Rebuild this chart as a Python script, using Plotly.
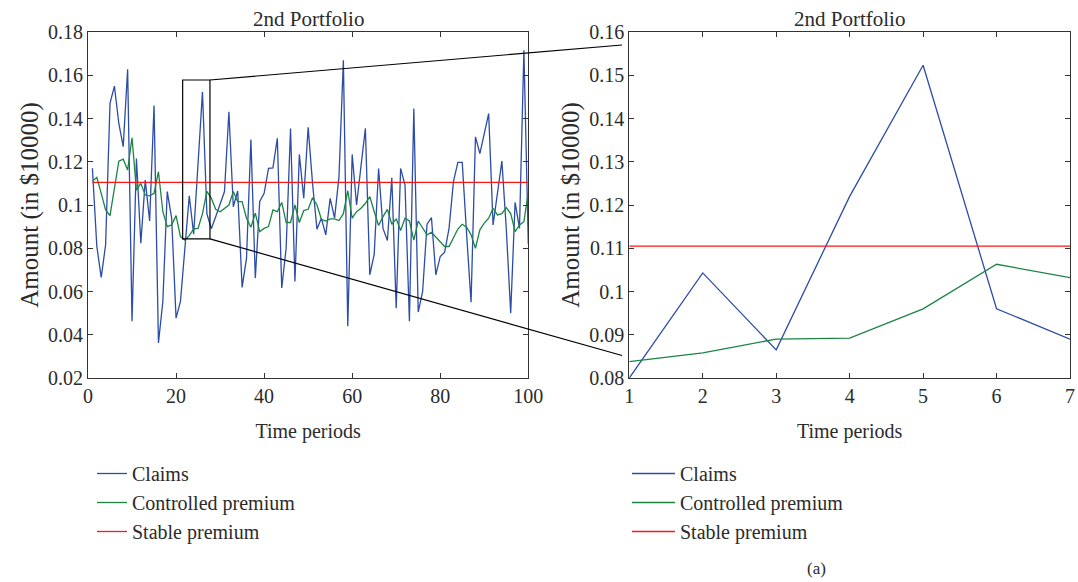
import plotly.graph_objects as go

# ---------------- data ----------------
periods = list(range(1, 101))
claims = [
    0.117, 0.081, 0.0665, 0.0816, 0.147, 0.155, 0.1377, 0.127, 0.1628, 0.0462,
    0.1215, 0.0823, 0.1115, 0.0926, 0.146, 0.0362, 0.0554, 0.1062, 0.0939, 0.0477,
    0.0554, 0.080, 0.1043, 0.0865, 0.122, 0.1523, 0.096, 0.089, 0.0946, 0.100,
    0.1062, 0.1431, 0.0992, 0.1065, 0.0619, 0.0754, 0.1303, 0.0662, 0.1016, 0.1054,
    0.1169, 0.1172, 0.1308, 0.0616, 0.080, 0.1354, 0.0646, 0.1234, 0.1031, 0.1359,
    0.110, 0.0888, 0.0939, 0.0862, 0.1031, 0.0939, 0.113, 0.1669, 0.0439, 0.1234,
    0.100, 0.118, 0.1354, 0.0677, 0.0772, 0.1169, 0.0892, 0.0836, 0.1126, 0.0523,
    0.1169, 0.1092, 0.0462, 0.1446, 0.0505, 0.060, 0.0911, 0.0942, 0.0677, 0.0762,
    0.0782, 0.0892, 0.1108, 0.1197, 0.1197, 0.0862, 0.0550, 0.1315, 0.1238, 0.133,
    0.1423, 0.0908, 0.1046, 0.1203, 0.089, 0.050, 0.1012, 0.0892, 0.1715, 0.082,
]
controlled = [
    0.111, 0.1128, 0.1054, 0.0977, 0.0951, 0.1077, 0.1203, 0.1212, 0.1162, 0.1311,
    0.1069, 0.110, 0.1046, 0.1042, 0.1054, 0.1154, 0.0969, 0.090, 0.0908, 0.0951,
    0.0854, 0.0838, 0.0858, 0.089, 0.0892, 0.096, 0.1063, 0.1032, 0.098, 0.0969,
    0.0985, 0.100, 0.1062, 0.1016, 0.1016, 0.0939, 0.0897, 0.0962, 0.0877, 0.0892,
    0.090, 0.0977, 0.0969, 0.1012, 0.0919, 0.0919, 0.100, 0.0919, 0.0974, 0.098,
    0.1034, 0.100, 0.0934, 0.0926, 0.0936, 0.0936, 0.0928, 0.096, 0.1066, 0.0939,
    0.0969, 0.0985, 0.1008, 0.1039, 0.097, 0.0905, 0.0946, 0.098, 0.0911, 0.0936,
    0.0882, 0.0939, 0.0926, 0.0838, 0.0926, 0.0892, 0.0862, 0.0874, 0.0851, 0.0831,
    0.0808, 0.0808, 0.0846, 0.0889, 0.0911, 0.0897, 0.0862, 0.080, 0.0885, 0.0916,
    0.0939, 0.0985, 0.0954, 0.096, 0.0988, 0.096, 0.0877, 0.0908, 0.0923, 0.1060,
]
stable_level = 0.1105
stable = [stable_level] * len(periods)

zoom_first, zoom_last = 22, 28          # periods shown in the zoomed panel
zoom_box_x = [21.5, 27.7]
zoom_box_y = [0.0843, 0.1578]

left_xticks = [0, 20, 40, 60, 80, 100]
left_yticks = [0.02, 0.04, 0.06, 0.08, 0.1, 0.12, 0.14, 0.16, 0.18]
left_yticktext = ["0.02", "0.04", "0.06", "0.08", "0.1", "0.12", "0.14", "0.16", "0.18"]
right_xticks = [1, 2, 3, 4, 5, 6, 7]
right_yticks = [0.08, 0.09, 0.1, 0.11, 0.12, 0.13, 0.14, 0.15, 0.16]
right_yticktext = ["0.08", "0.09", "0.1", "0.11", "0.12", "0.13", "0.14", "0.15", "0.16"]

names = ["Claims", "Controlled premium", "Stable premium"]
colors = ["#2c4ca8", "#1c8443", "#ff1414"]

# ---------------- figure ----------------
W, H = 1078, 582
ML, MR, MT, MB = 88, 8, 32, 204
PW, PH = W - ML - MR, H - MT - MB
LEFT_DOM = [0, (528.3 - ML) / PW]
RIGHT_DOM = [(629.3 - ML) / PW, 1]
FONT = "Liberation Serif"
TXT = "#2b2b2b"

i0 = periods.index(zoom_first)
i1 = periods.index(zoom_last) + 1
zoom_x = [p - zoom_first + 1 for p in periods[i0:i1]]

fig = go.Figure()
left_series = [claims, controlled, stable]
for k, ser in enumerate(left_series):
    fig.add_trace(go.Scatter(
        x=periods, y=ser, mode="lines", name=names[k],
        line=dict(color=colors[k], width=1.3),
        xaxis="x", yaxis="y", legend="legend",
    ))
for k, ser in enumerate(left_series):
    fig.add_trace(go.Scatter(
        x=zoom_x, y=ser[i0:i1], mode="lines", name=names[k],
        line=dict(color=colors[k], width=1.3),
        xaxis="x2", yaxis="y2", legend="legend2",
    ))

axis_common = dict(
    showgrid=False, zeroline=False, showline=True, mirror="ticks",
    linecolor="#333333", linewidth=1.2, ticks="inside", ticklen=5,
    tickcolor="#333333", tickwidth=1, automargin=False,
    tickfont=dict(family=FONT, size=20, color=TXT),
)
xtitle_font = dict(family=FONT, size=20, color=TXT)
ytitle_font = dict(family=FONT, size=25, color=TXT)

legend_common = dict(
    xanchor="left", yanchor="top", bgcolor="rgba(0,0,0,0)",
    traceorder="normal", font=dict(family=FONT, size=20, color=TXT),
)

fig.update_layout(
    width=W, height=H,
    margin=dict(l=ML, r=MR, t=MT, b=MB, autoexpand=False),
    paper_bgcolor="white", plot_bgcolor="white",
    font=dict(family=FONT, size=20, color=TXT),
    xaxis=dict(domain=LEFT_DOM, range=[0, 100], tickvals=left_xticks,
               title=dict(text="Time periods", standoff=17, font=xtitle_font),
               anchor="y", **axis_common),
    yaxis=dict(domain=[0, 1], range=[0.02, 0.18], tickvals=left_yticks,
               ticktext=left_yticktext,
               title=dict(text="Amount (in $10000)", standoff=2, font=ytitle_font),
               anchor="x", **axis_common),
    xaxis2=dict(domain=RIGHT_DOM, range=[1, 7], tickvals=right_xticks,
                title=dict(text="Time periods", standoff=17, font=xtitle_font),
                anchor="y2", **axis_common),
    yaxis2=dict(domain=[0, 1], range=[0.08, 0.16], tickvals=right_yticks,
                ticktext=right_yticktext,
                title=dict(text="Amount (in $10000)", standoff=2, font=ytitle_font),
                anchor="x2", **axis_common),
    legend=dict(x=(92 - ML) / PW, y=(378 - 454) / PH, **legend_common),
    legend2=dict(x=(627 - ML) / PW, y=(378 - 454) / PH, itemwidth=43, **legend_common),
    showlegend=True,
)

# panel titles
for dom in (LEFT_DOM, RIGHT_DOM):
    fig.add_annotation(text="2nd Portfolio", xref="paper", yref="paper",
                       x=(dom[0] + dom[1]) / 2, y=1, xanchor="center", yanchor="bottom",
                       yshift=-1, showarrow=False,
                       font=dict(family=FONT, size=21, color=TXT))

fig.add_annotation(text="(a)", xref="paper", yref="paper",
                   x=(816 - ML) / PW, y=(378 - 568) / PH, xanchor="center", yanchor="middle",
                   showarrow=False, font=dict(family=FONT, size=17, color=TXT))

# zoom rectangle on left panel
fig.add_shape(type="rect", xref="x", yref="y",
              x0=zoom_box_x[0], x1=zoom_box_x[1], y0=zoom_box_y[0], y1=zoom_box_y[1],
              line=dict(color="black", width=1.2))


# connector lines (paper coordinates derived from axis ranges)
def left_px(xv):
    return LEFT_DOM[0] + (LEFT_DOM[1] - LEFT_DOM[0]) * (xv - 0) / 100


def left_py(yv):
    return (yv - 0.02) / 0.16


def right_py(yv):
    return (yv - 0.08) / 0.08


conn_x_end = RIGHT_DOM[0] - 7.3 / PW
fig.add_shape(type="line", xref="paper", yref="paper",
              x0=left_px(zoom_box_x[1]), y0=left_py(zoom_box_y[1]),
              x1=conn_x_end, y1=right_py(0.157),
              line=dict(color="black", width=1.2))
fig.add_shape(type="line", xref="paper", yref="paper",
              x0=left_px(zoom_box_x[1]), y0=left_py(zoom_box_y[0]),
              x1=conn_x_end, y1=right_py(0.0852),
              line=dict(color="black", width=1.2))

fig.write_html("out.html")
